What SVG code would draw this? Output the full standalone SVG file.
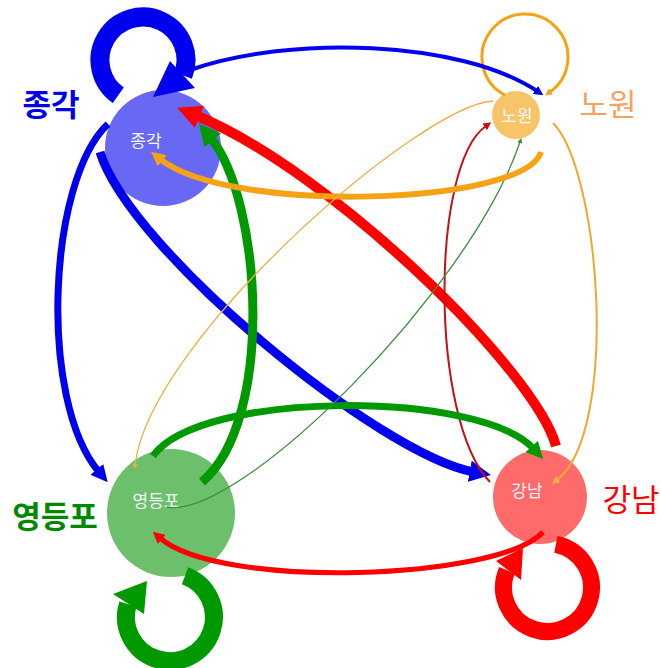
<svg xmlns="http://www.w3.org/2000/svg" width="661" height="668" viewBox="0 0 661 668">
<style>
.nl{font-family:"Noto Sans CJK KR","Noto Sans",sans-serif;font-size:17px;fill:#f4f4ff;text-anchor:middle}
.sl{font-family:"Noto Sans CJK KR","Noto Sans",sans-serif;font-size:31px;text-anchor:middle}
.e{fill:none}
</style>
<defs>
<marker id="mb" viewBox="0 0 10 10" refX="2" refY="5" markerWidth="2.4" markerHeight="2.4" orient="auto" markerUnits="strokeWidth"><path d="M0,0 L10,5 L0,10 z" fill="#0000ee"/></marker>
<marker id="mr" viewBox="0 0 10 10" refX="2" refY="5" markerWidth="2.4" markerHeight="2.4" orient="auto" markerUnits="strokeWidth"><path d="M0,0 L10,5 L0,10 z" fill="#ff0000"/></marker>
<marker id="mg" viewBox="0 0 10 10" refX="2" refY="5" markerWidth="2.4" markerHeight="2.4" orient="auto" markerUnits="strokeWidth"><path d="M0,0 L10,5 L0,10 z" fill="#009900"/></marker>
<marker id="mo" viewBox="0 0 10 10" refX="2" refY="5" markerWidth="2.4" markerHeight="2.4" orient="auto" markerUnits="strokeWidth"><path d="M0,0 L10,5 L0,10 z" fill="#f5a316"/></marker>
<marker id="mrt" viewBox="0 0 10 10" refX="2" refY="5" markerWidth="4" markerHeight="4" orient="auto" markerUnits="strokeWidth"><path d="M0,0 L10,5 L0,10 z" fill="#c81010"/></marker>
<marker id="mgt" viewBox="0 0 10 10" refX="2" refY="5" markerWidth="4" markerHeight="4" orient="auto" markerUnits="strokeWidth"><path d="M0,0 L10,5 L0,10 z" fill="#3c8c3c"/></marker>
<marker id="mot" viewBox="0 0 10 10" refX="2" refY="5" markerWidth="4" markerHeight="4" orient="auto" markerUnits="strokeWidth"><path d="M0,0 L10,5 L0,10 z" fill="#eab040"/></marker>
</defs>
<rect width="661" height="668" fill="#ffffff"/>

<g id="node-jonggak">
<circle cx="163" cy="148" r="58" fill="#6868f4"/>
<text class="nl" x="146" y="147">종각</text>
</g>
<g id="node-nowon">
<circle cx="516" cy="115" r="24" fill="#f7c468"/>
<text class="nl" x="517" y="122">노원</text>
</g>
<g id="node-yeongdeungpo">
<circle cx="171" cy="513" r="64" fill="#6cc06c"/>
<text class="nl" x="156" y="507">영등포</text>
</g>
<g id="node-gangnam">
<circle cx="540" cy="497" r="47" fill="#ff6a6a"/>
<text class="nl" x="527" y="497">강남</text>
</g>

<g id="labels">
<text class="sl" x="51" y="116" fill="#0000ee" font-weight="bold">종각</text>
<text class="sl" x="608" y="116" fill="#f8a060">노원</text>
<text class="sl" x="55" y="528" fill="#008800" font-weight="bold">영등포</text>
<text class="sl" x="631" y="511" fill="#ff0000">강남</text>
</g>

<g id="connectors">
<path class="e" d="M118.3,95.2 A43,43 0 1 1 183.1,75.4" stroke="#0000ee" stroke-width="19"/>
<polygon points="170,61 195,88 153,97" fill="#0000ee"/>
<path class="e" d="M555.9,544.3 A44,44 0 1 1 507,570.3" stroke="#ff0000" stroke-width="17"/>
<polygon points="496,561 521,580 523,548" fill="#ff0000"/>
<path class="e" d="M185,575.7 A44,44 0 1 1 127.9,604.1" stroke="#009900" stroke-width="18"/>
<polygon points="113,594 144,614 147,581" fill="#009900"/>
<path class="e" d="M504.8,95 A43,43 0 1 1 549.7,92.2" stroke="#f5a316" stroke-width="3" marker-end="url(#mo)"/>

<path class="e" d="M190,70 C290,35 460,40 537,91" stroke="#0000ee" stroke-width="4" marker-end="url(#mb)"/>
<path class="e" d="M108,124 C48,180 38,400 99,472" stroke="#0000ee" stroke-width="7" marker-end="url(#mb)"/>
<path class="e" d="M100,152 C130,250 380,455 474,472" stroke="#0000ee" stroke-width="9" marker-end="url(#mb)"/>

<path class="e" d="M556,446 C535,370 330,170 195,115" stroke="#ff0000" stroke-width="10" marker-end="url(#mr)"/>
<path class="e" d="M543,532 C500,580 220,590 160,538" stroke="#ff0000" stroke-width="5" marker-end="url(#mr)"/>
<path class="e" d="M490,482 C430,420 430,165 486,126" stroke="#c81010" stroke-width="2" marker-end="url(#mrt)"/>

<path class="e" d="M202,482 C275,420 262,200 210,137" stroke="#009900" stroke-width="9" marker-end="url(#mg)"/>
<path class="e" d="M153,456 C200,390 480,390 534,449" stroke="#009900" stroke-width="7" marker-end="url(#mg)"/>
<path class="e" d="M167,507 C240,520 470,290 520,142" stroke="#3c8c3c" stroke-width="1.3" marker-end="url(#mgt)"/>

<path class="e" d="M541,152 C525,205 230,215 160,159" stroke="#f5a316" stroke-width="6" marker-end="url(#mo)"/>
<path class="e" d="M493,101 C420,105 150,340 135,465" stroke="#eab040" stroke-width="1.3" marker-end="url(#mot)"/>
<path class="e" d="M553,123 C600,170 620,430 557,480" stroke="#f0a830" stroke-width="2" marker-end="url(#mot)"/>
</g>
</svg>
